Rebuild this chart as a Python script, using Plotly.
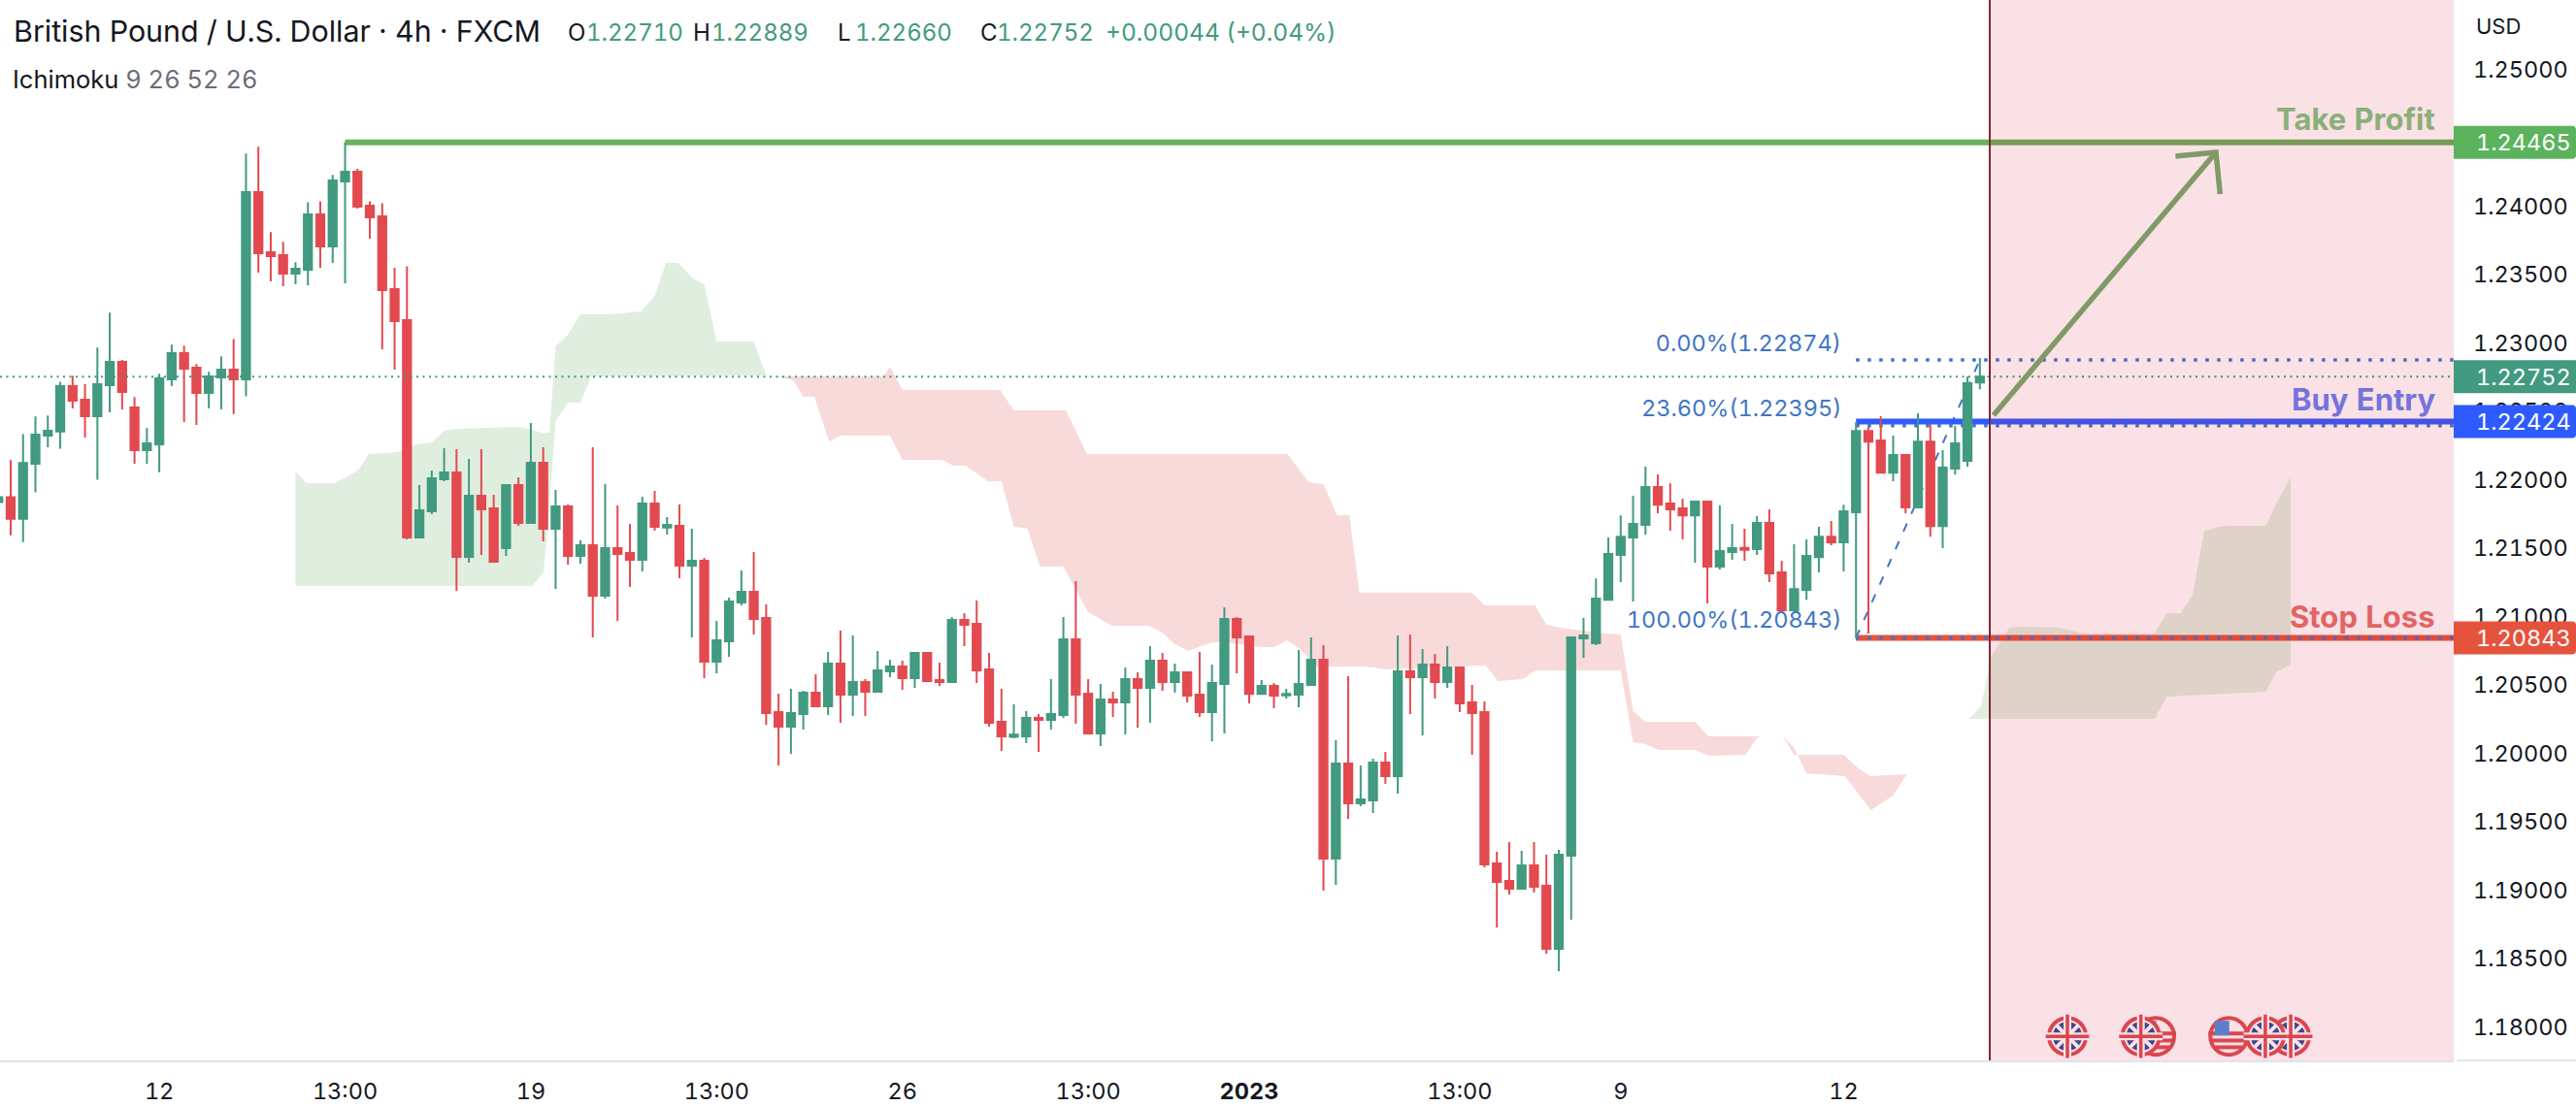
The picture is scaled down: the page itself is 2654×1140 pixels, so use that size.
import plotly.graph_objects as go

W, H = 2654, 1140
PLOT_W, PLOT_H = 2528, 1093

# ---------- candle data (4h GBP/USD), one entry per bar ----------
opens = [1.21835,1.21872,1.21714,1.22116,1.22322,1.22352,1.22683,1.22584,1.22463,1.22690,
1.22861,1.22527,1.22215,1.22258,1.22733,1.22924,1.22818,1.22634,1.22747,1.22804,
1.22733,1.24102,1.23662,1.23641,1.23506,1.23534,1.23939,1.23705,1.24180,1.24251,
1.24002,1.23924,1.23392,1.23166,1.21577,1.21768,1.22002,1.22052,1.21435,1.21882,
1.21789,1.21498,1.21959,1.21683,1.22123,1.21640,1.21803,1.21442,1.21520,1.21151,
1.21498,1.21463,1.21413,1.21825,1.21650,1.21662,1.21371,1.21406,1.20669,1.20818,
1.21101,1.21179,1.20988,1.20300,1.20194,1.20286,1.20442,1.20342,1.20655,1.20428,
1.20520,1.20449,1.20598,1.20633,1.20548,1.20733,1.20534,1.20520,1.20974,1.20946,
1.20612,1.20229,1.20120,1.20123,1.20258,1.20243,1.20279,1.20832,1.20435,1.20144,
1.20392,1.20371,1.20541,1.20477,1.20676,1.20520,1.20591,1.20428,1.20300,1.20505,
1.20981,1.20853,1.20434,1.20491,1.20423,1.20427,1.20498,1.20683,1.19229,1.19924,
1.19633,1.19654,1.19931,1.19832,1.20598,1.20555,1.20647,1.20520,1.20626,1.20371,
1.20300,1.19193,1.19066,1.19009,1.19179,1.19030,1.18569,1.19250,1.20839,1.20803,
1.21122,1.21449,1.21576,1.21669,1.21945,1.21825,1.21789,1.21739,1.21839,1.21364,
1.21470,1.21501,1.21491,1.21683,1.21321,1.21044,1.21193,1.21434,1.21583,1.21541,
1.21761,1.22356,1.22286,1.22051,1.22179,1.21796,1.22278,1.21661,1.22080,1.22137,1.22710]
highs = [1.21885,1.22142,1.22333,1.22461,1.22468,1.22716,1.22759,1.22697,1.22965,1.23220,
1.22875,1.22603,1.22376,1.22773,1.22986,1.22979,1.22844,1.22787,1.22901,1.23028,
1.24383,1.24433,1.23809,1.23738,1.23589,1.24028,1.24035,1.24227,1.24465,1.24272,
1.24035,1.24021,1.23548,1.23560,1.21960,1.22066,1.22229,1.22222,1.22151,1.22222,
1.21889,1.21959,1.22016,1.22413,1.22236,1.21924,1.21818,1.21555,1.22236,1.21967,
1.21811,1.21676,1.21874,1.21917,1.21725,1.21818,1.21640,1.21428,1.20967,1.21137,
1.21335,1.21470,1.21087,1.20435,1.20470,1.20456,1.20577,1.20740,1.20896,1.20860,
1.20541,1.20747,1.20683,1.20676,1.20737,1.20740,1.20662,1.20995,1.21024,1.21116,
1.20733,1.20470,1.20357,1.20307,1.20286,1.20541,1.20995,1.21258,1.20541,1.20506,
1.20449,1.20626,1.20591,1.20782,1.20733,1.20655,1.20591,1.20740,1.20648,1.21066,
1.20995,1.20853,1.20534,1.20513,1.20470,1.20754,1.20846,1.20789,1.20094,1.20562,
1.19910,1.19959,1.20009,1.20860,1.20867,1.20761,1.20725,1.20782,1.20626,1.20498,
1.20378,1.19278,1.19349,1.19286,1.19349,1.19257,1.19293,1.20846,1.20988,1.21278,
1.21576,1.21739,1.21881,1.22094,1.22037,1.21973,1.21860,1.21846,1.21839,1.21810,
1.21676,1.21640,1.21732,1.21782,1.21406,1.21527,1.21562,1.21654,1.21697,1.21817,
1.22420,1.22385,1.22463,1.22321,1.22179,1.22484,1.22406,1.22215,1.22392,1.22754,1.22889]
lows = [1.21820,1.21593,1.21544,1.21906,1.22236,1.22225,1.22520,1.22307,1.21998,1.22492,
1.22513,1.22116,1.22116,1.22054,1.22683,1.22421,1.22400,1.22520,1.22513,1.22480,
1.22608,1.23513,1.23449,1.23414,1.23428,1.23421,1.23548,1.23584,1.23435,1.23981,
1.23761,1.22953,1.22804,1.21563,1.21570,1.21747,1.21988,1.21187,1.21393,1.21449,
1.21399,1.21442,1.21662,1.21683,1.21548,1.21201,1.21378,1.21385,1.20846,1.21130,
1.20967,1.21215,1.21328,1.21626,1.21598,1.21279,1.20846,1.20548,1.20584,1.20704,
1.21080,1.20867,1.20208,1.19910,1.19995,1.20172,1.20342,1.20279,1.20222,1.20272,
1.20272,1.20449,1.20555,1.20463,1.20477,1.20520,1.20492,1.20520,1.20782,1.20513,
1.20194,1.20016,1.20109,1.20073,1.20009,1.20172,1.20258,1.20215,1.20137,1.20052,
1.20265,1.20137,1.20187,1.20222,1.20456,1.20442,1.20371,1.20265,1.20087,1.20144,
1.20583,1.20364,1.20427,1.20328,1.20399,1.20335,1.20491,1.18995,1.19037,1.19520,
1.19612,1.19562,1.19775,1.19704,1.20286,1.20130,1.20399,1.20477,1.20300,1.19988,
1.19165,1.18725,1.18966,1.19009,1.18981,1.18534,1.18406,1.18782,1.20697,1.20789,
1.21115,1.21250,1.21108,1.21598,1.21754,1.21626,1.21562,1.21392,1.21094,1.21342,
1.21413,1.21406,1.21449,1.21250,1.21023,1.21037,1.21122,1.21321,1.21520,1.21328,
1.20839,1.20874,1.22051,1.21988,1.21754,1.21796,1.21583,1.21498,1.22037,1.22094,1.22660]
closes = [1.21872,1.21714,1.22121,1.22329,1.22357,1.22683,1.22577,1.22463,1.22697,1.22861,
1.22641,1.22215,1.22265,1.22740,1.22924,1.22811,1.22634,1.22754,1.22804,1.22733,
1.24102,1.23655,1.23634,1.23506,1.23541,1.23939,1.23705,1.24187,1.24251,1.23995,
1.23917,1.23385,1.23158,1.21577,1.21776,1.22010,1.22052,1.21435,1.21882,1.21783,
1.21399,1.21959,1.21683,1.22123,1.21640,1.21803,1.21442,1.21520,1.21151,1.21498,
1.21456,1.21413,1.21825,1.21655,1.21669,1.21371,1.21406,1.20669,1.20825,1.21108,
1.21179,1.20981,1.20293,1.20194,1.20293,1.20442,1.20342,1.20655,1.20428,1.20520,
1.20449,1.20605,1.20633,1.20548,1.20733,1.20527,1.20520,1.20974,1.20938,1.20605,
1.20222,1.20123,1.20135,1.20258,1.20243,1.20286,1.20832,1.20428,1.20144,1.20392,
1.20371,1.20541,1.20477,1.20676,1.20520,1.20591,1.20421,1.20300,1.20513,1.20981,
1.20846,1.20434,1.20491,1.20420,1.20434,1.20505,1.20683,1.19229,1.19924,1.19633,
1.19661,1.19931,1.19832,1.20598,1.20555,1.20647,1.20520,1.20626,1.20364,1.20293,
1.19186,1.19059,1.19009,1.19179,1.19023,1.18569,1.19257,1.20846,1.20860,1.21130,
1.21456,1.21583,1.21676,1.21945,1.21817,1.21782,1.21739,1.21839,1.21364,1.21477,
1.21498,1.21486,1.21683,1.21314,1.21044,1.21200,1.21442,1.21583,1.21541,1.21768,
1.22356,1.22278,1.22051,1.22179,1.21796,1.22278,1.21661,1.22087,1.22264,1.22704,1.22752]
bar_index = list(range(-1, 160))

# ---------- Ichimoku cloud outlines ----------
green_a_x = [23.0,23.9,26.1,27.1,28.1,28.9,31.3,32.8,34.0,35.0,36.0,41.1,42.9,43.5,44.0,45.0,46.0,48.4,50.9,52.0,52.9,53.9,55.1,56.0,57.0,60.0,61.0,
             46.9,46.0,45.0,44.0,43.3,43.0,42.1,23.0]
green_a_y = [1.22059,1.21974,1.21974,1.22017,1.22073,1.22187,1.22201,1.22258,1.22272,1.22357,1.22371,1.22386,1.22343,1.22343,1.22974,1.23059,1.23208,1.23208,1.23229,1.23343,1.23584,1.23584,1.23471,1.23428,1.23010,1.23010,1.22761,
             1.22754,1.22563,1.22563,1.22428,1.21556,1.21322,1.21222,1.21222]
red_a_x = [61.8,70.5,71.0,72.0,79.9,81.0,85.2,86.9,103.1,104.8,106.0,107.1,108.1,108.9,118.0,119.0,123.1,124.0,125.6,128.8,130.0,131.0,132.0,136.0,137.1,141.3,
           141.0,140.1,137.1,136.0,133.1,132.0,131.0,130.0,123.1,122.1,120.1,119.1,110.9,110.2,108.9,105.4,104.0,103.1,102.0,100.9,98.0,97.0,95.1,94.0,93.0,91.9,88.9,87.0,86.1,85.0,83.1,82.1,81.0,80.0,78.9,77.1,76.1,75.2,72.0,71.0,67.0,66.1,64.9,64.0,63.2,61.8]
red_a_y = [1.22754,1.22754,1.22825,1.22655,1.22655,1.22506,1.22506,1.22187,1.22187,1.21981,1.21967,1.21740,1.21740,1.21173,1.21173,1.21081,1.21081,1.20939,1.20910,1.20875,1.20868,1.20308,1.20230,1.20230,1.20123,1.20123,
           1.20109,1.19988,1.19981,1.20024,1.20024,1.20066,1.20081,1.20605,1.20605,1.20542,1.20527,1.20641,1.20613,1.20627,1.20634,1.20634,1.20769,1.20825,1.20776,1.20776,1.20811,1.20811,1.20747,1.20797,1.20882,1.20932,1.20932,1.21031,1.21180,1.21364,1.21364,1.21641,1.21655,1.21988,1.21988,1.22102,1.22102,1.22144,1.22144,1.22322,1.22322,1.22279,1.22605,1.22605,1.22726,1.22754]
red_b_x = [143.1,144.0,145.0,148.0,149.0,150.1,153.1,152.0,150.2,148.1,145.0,144.0,143.1]
red_b_y = [1.20123,1.19988,1.19988,1.19988,1.19903,1.19832,1.19847,1.19691,1.19584,1.19832,1.19854,1.20038,1.20123]
green_b_x = [158.1,159.1,159.9,161.4,162.4,165.4,167.4,173.1,174.1,175.2,176.2,177.1,178.3,179.1,182.1,182.9,184.1,
             184.1,182.9,182.1,175.5,174.1,173.1,158.1]
green_b_y = [1.20251,1.20343,1.20705,1.20917,1.20925,1.20917,1.20875,1.20875,1.21024,1.21024,1.21159,1.21620,1.21655,1.21662,1.21662,1.21818,1.22017,
             1.20648,1.20591,1.20449,1.20421,1.20414,1.20251,1.20251]

# ---------- levels and drawings ----------
last_price = 1.22752
take_profit = 1.24465
buy_entry = 1.22424
stop_loss = 1.20843
fib_0 = 1.22874
fib_236 = 1.22395
fib_start_bar = 149
tp_start_bar = 27
future_bar = 159.8
fib_trend_x = [149, 159]
fib_trend_y = [1.20843, 1.22874]
arrow_x = [160.1, 178.06]
arrow_y = [1.2247, 1.24392]
arrow_head_x = [174.8, 178.06, 178.4]
arrow_head_y = [1.24364, 1.24392, 1.24087]
flags_uk_back = [184.1]
flags_us_back = [173.2]
flags_us = [179.1]
flags_uk = [166.07, 172.0, 182.05]
flag_price = 1.1793

# ---------- axes ----------
tick_bars = [12, 27, 42, 57, 72, 87, 100, 117, 130, 148]
tick_labels = ["12", "13:00", "19", "13:00", "26", "13:00", "<b>2023</b>", "13:00", "9", "12"]
price_ticks = [1.18 + 0.005 * i for i in range(15)]
price_tick_labels = [f"{v:.5f}" for v in price_ticks]
y_range = [1.17754, 1.25506]
x_range = [-0.862, 197.26]

FONT = "Inter"
INK = "#131722"
GREEN = "#429A80"
RED = "#E24A50"
BLUE_TXT = "#3F75C6"
ARROW = "#73AE6F"
PX_PER_PRICE = PLOT_H / (y_range[1] - y_range[0])


def px(x):
    return x / PLOT_W


def py(y):
    return 1 - y / PLOT_H


fig = go.Figure()


def cloud(xs, ys, col):
    path = "M " + " L ".join(f"{a},{b}" for a, b in zip(xs, ys)) + " Z"
    return dict(type="path", xref="x", yref="y", path=path, fillcolor=col,
                line=dict(width=0), layer="below")


def level(price, x0, col, width, dash="solid"):
    return dict(type="line", xref="x", yref="y", x0=x0, x1=x_range[1], y0=price, y1=price,
                line=dict(color=col, width=width, dash=dash), layer="below")


shapes = [
    cloud(green_a_x, green_a_y, "#E0EEDF"),
    cloud(red_a_x, red_a_y, "#F8DADA"),
    cloud(red_b_x, red_b_y, "#F8DADA"),
    cloud(green_b_x, green_b_y, "#E0EEDF"),
    dict(type="line", xref="x", yref="y", x0=fib_trend_x[0], x1=fib_trend_x[1],
         y0=fib_trend_y[0], y1=fib_trend_y[1],
         line=dict(color="#4472C4", width=2, dash="9px,11px"), layer="below"),
    level(take_profit, tp_start_bar, "#6BB05C", 6),
    level(buy_entry, fib_start_bar, "#2E5BFF", 6),
    level(stop_loss, fib_start_bar, "#E5533D", 6),
    level(fib_0, fib_start_bar, "#4472C4", 3.5, "3.5px,8.5px"),
    level(fib_236, fib_start_bar, "#4472C4", 3.5, "3.5px,8.5px"),
    level(stop_loss, fib_start_bar, "#4472C4", 3.5, "3.5px,8.5px"),
]

fig.add_trace(go.Candlestick(
    x=bar_index, open=opens, high=highs, low=lows, close=closes,
    increasing=dict(line=dict(color=GREEN, width=2), fillcolor=GREEN),
    decreasing=dict(line=dict(color=RED, width=2), fillcolor=RED),
    whiskerwidth=0, hoverinfo="skip"))

# last price dotted line
fig.add_trace(go.Scatter(x=x_range, y=[last_price, last_price], mode="lines",
                         line=dict(color="#3F9A7E", width=2, dash="2px,4.5px"), hoverinfo="skip"))

# arrow
fig.add_trace(go.Scatter(x=arrow_x, y=arrow_y, mode="lines",
                         line=dict(color=ARROW, width=5.5), hoverinfo="skip"))
fig.add_trace(go.Scatter(x=arrow_head_x, y=arrow_head_y, mode="lines",
                         line=dict(color=ARROW, width=5.5), hoverinfo="skip"))


def uk_flag(xs):
    n = len(xs)
    ys = [flag_price] * n
    fig.add_trace(go.Scatter(x=xs, y=ys, mode="markers", hoverinfo="skip",
                             marker=dict(symbol="circle", size=38, color="white",
                                         line=dict(color="#DC4E52", width=4))))
    fig.add_trace(go.Scatter(x=xs, y=ys, mode="markers", hoverinfo="skip",
                             marker=dict(symbol="circle", size=30, color="#2B4C9E", line=dict(width=0))))
    fig.add_trace(go.Scatter(x=xs, y=ys, mode="markers", hoverinfo="skip",
                             marker=dict(symbol="x-thin", size=23, line=dict(color="white", width=4))))
    fig.add_trace(go.Scatter(x=xs, y=ys, mode="markers", hoverinfo="skip",
                             marker=dict(symbol="cross-thin", size=32, line=dict(color="white", width=8))))
    fig.add_trace(go.Scatter(x=xs, y=ys, mode="markers", hoverinfo="skip",
                             marker=dict(symbol="cross-thin", size=32, line=dict(color="#DC4E52", width=3.5))))


def us_flag(xs):
    n = len(xs)
    ys = [flag_price] * n
    fig.add_trace(go.Scatter(x=xs, y=ys, mode="markers", hoverinfo="skip",
                             marker=dict(symbol="circle", size=38, color="white",
                                         line=dict(color="#DC4E52", width=4))))
    for off, sz in [(0.0002, 30), (-0.0003, 28), (-0.0008, 20)]:
        fig.add_trace(go.Scatter(x=xs, y=[flag_price + off] * n, mode="markers", hoverinfo="skip",
                                 marker=dict(symbol="line-ew", size=sz, line=dict(color="#DC4E52", width=4))))
    fig.add_trace(go.Scatter(x=[v - 0.55 for v in xs], y=[flag_price + 0.0006] * n, mode="markers",
                             hoverinfo="skip",
                             marker=dict(symbol="square", size=15, color="#4A8FE0", line=dict(width=0))))


uk_flag(flags_uk_back)
us_flag(flags_us_back)
uk_flag(flags_uk[1:2])
us_flag(flags_us)
uk_flag(flags_uk[:1] + flags_uk[2:])

shapes += [
    dict(type="rect", xref="x", yref="paper", x0=future_bar, x1=x_range[1], y0=0, y1=1,
         fillcolor="rgba(211,24,55,0.13)", line=dict(width=0), layer="above"),
    dict(type="line", xref="x", yref="paper", x0=future_bar, x1=future_bar, y0=0, y1=1,
         line=dict(color="#7A2A33", width=2), layer="above"),
    dict(type="line", xref="paper", yref="paper", x0=1.0015, x1=W / PLOT_W, y0=0, y1=0,
         line=dict(color="#E0E3EB", width=2), layer="above"),
]


def tag(price, col, rounded=True):
    half = 17 / PX_PER_PRICE
    x0, x1 = 1.0, W / PLOT_W
    if rounded:
        r = 4 / PLOT_W
        ry = 4 / PX_PER_PRICE
        path = (f"M {x0},{price + half} L {x1 - r},{price + half} Q {x1},{price + half} {x1},{price + half - ry} "
                f"L {x1},{price - half + ry} Q {x1},{price - half} {x1 - r},{price - half} L {x0},{price - half} Z")
        return dict(type="path", xref="paper", yref="y", path=path, fillcolor=col,
                    line=dict(width=0), layer="above")
    return dict(type="rect", xref="paper", yref="y", x0=x0, x1=x1, y0=price - half, y1=price + half,
                fillcolor=col, line=dict(width=0), layer="above")


shapes += [tag(take_profit, "#5CB35D"), tag(last_price, GREEN, False),
           tag(buy_entry, "#2E5BFF"), tag(stop_loss, "#E5533D")]

annotations = []


def text(s, x, y, size=23.5, color=INK, anchor="left"):
    annotations.append(dict(text=s, xref="paper", yref="paper", x=px(x), y=py(y), xanchor=anchor,
                            yanchor="middle", showarrow=False, align=anchor, borderpad=0,
                            font=dict(family=FONT, size=size, color=color)))


TAG_TEXT_X = 2550
for p in [take_profit, last_price, buy_entry, stop_loss]:
    text(f"{p:.5f}", TAG_TEXT_X, (y_range[1] - p) * PX_PER_PRICE, color="white")
text("USD", TAG_TEXT_X, 27, size=22)

text("British Pound / U.S. Dollar · 4h · FXCM", 13, 32, size=30.4)
for lab, lab_x, val, val_x in [("O", 584, "1.22710", 603), ("H", 713, "1.22889", 732),
                               ("L", 862, "1.22660", 880), ("C", 1009, "1.22752", 1026)]:
    text(lab, lab_x, 33, size=24)
    text(val, val_x, 33, size=24, color=GREEN)
text("+0.00044 (+0.04%)", 1138, 33, size=24.5, color=GREEN)
text("Ichimoku <span style='color:#6A6D78'>9 26 52 26</span>", 12, 81, size=25.5)

text("0.00%(1.22874)", 1898, 353, color=BLUE_TXT, anchor="right")
text("23.60%(1.22395)", 1898, 420, color=BLUE_TXT, anchor="right")
text("100.00%(1.20843)", 1898, 638, color=BLUE_TXT, anchor="right")

text("<b>Take Profit</b>", 2510, 123, size=31, color="#8BAF78", anchor="right")
text("<b>Buy Entry</b>", 2510, 412, size=31, color="#7474DC", anchor="right")
text("<b>Stop Loss</b>", 2510, 635, size=31, color="#E26464", anchor="right")

fig.update_layout(
    width=W, height=H, autosize=False,
    margin=dict(l=0, r=W - PLOT_W, t=0, b=H - PLOT_H, pad=0, autoexpand=False),
    paper_bgcolor="white", plot_bgcolor="white",
    showlegend=False, boxgap=0.35, boxgroupgap=0, hovermode=False,
    shapes=shapes, annotations=annotations,
    font=dict(family=FONT, size=23.5, color=INK),
    xaxis=dict(range=x_range, rangeslider=dict(visible=False), showgrid=False, zeroline=False,
               tickmode="array", tickvals=tick_bars, ticktext=tick_labels, ticks="",
               showline=True, linecolor="#E0E3EB", linewidth=2,
               tickfont=dict(family=FONT, size=23.5, color=INK), ticklabelstandoff=10),
    yaxis=dict(range=y_range, side="right", showgrid=False, zeroline=False, showline=False,
               tickmode="array", tickvals=price_ticks, ticktext=price_tick_labels, ticks="",
               tickfont=dict(family=FONT, size=23.5, color=INK), ticklabelstandoff=19),
)

PAGE_SCRIPT = (
    "var s=document.createElement('style');"
    "s.textContent='html,body{margin:0;padding:0;overflow:hidden;background:white}"
    " svg text{font-variant-numeric:tabular-nums;font-feature-settings:\"tnum\" 1}';"
    "document.head.appendChild(s);"
    "Plotly.redraw(document.getElementById('{plot_id}'));"
)
fig.write_html("out.html", config=dict(displayModeBar=False), post_script=PAGE_SCRIPT)
